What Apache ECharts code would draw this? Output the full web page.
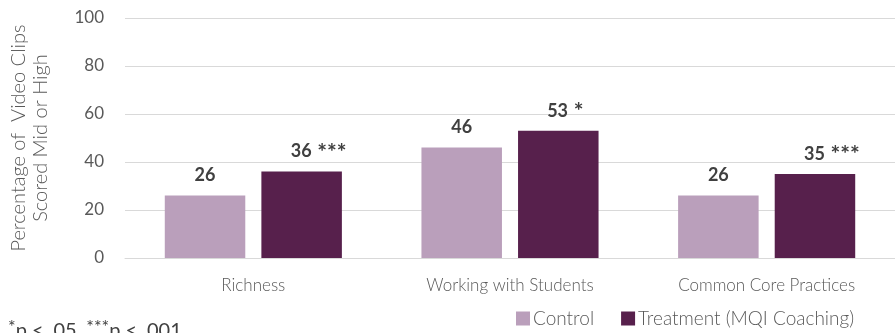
<!DOCTYPE html>
<html><head><meta charset="utf-8">
<script src="https://cdn.jsdelivr.net/npm/echarts@6/dist/echarts.min.js"></script>
<style>html,body{margin:0;padding:0;background:#fff}#c{width:895px;height:333px}</style>
</head><body><div id="c"></div>
<script>
const categories = ['Richness', 'Working with Students', 'Common Core Practices'];
const controlValues = [26, 46, 26];
const treatmentValues = [36, 53, 35];
const treatmentSig = ['***', '*', '***'];
const yTicks = [0, 20, 40, 60, 80, 100];
const seriesNames = ['Control', 'Treatment (MQI Coaching)'];

const chart = echarts.init(document.getElementById('c'));
const labelBase = {
  show: true, position: 'top', distance: 11,
  color: '#404040', fontFamily: 'Lato', fontWeight: 'bold', fontSize: 18
};
chart.setOption({
  animation: false,
  grid: { left: 124, right: -10, top: 18, bottom: 75 },
  legend: {
    data: seriesNames, left: 516, top: 309, padding: 0, itemWidth: 14, itemHeight: 14, itemGap: 27,
    icon: 'rect',
    textStyle: { color: '#595959', fontFamily: 'Lato', fontWeight: 300, fontSize: 19, padding: [0, 0, 0, -2] }
  },
  xAxis: {
    type: 'category', data: categories,
    axisLine: { lineStyle: { color: '#D9D9D9' } },
    axisTick: { show: false },
    axisLabel: { color: '#595959', fontFamily: 'Lato', fontWeight: 300, fontSize: 17, margin: 19 }
  },
  yAxis: {
    type: 'value', min: yTicks[0], max: yTicks[yTicks.length - 1], interval: 20,
    name: 'Percentage of  Video Clips\nScored Mid or High', nameLocation: 'middle', nameGap: 73,
    nameTextStyle: { color: '#595959', fontFamily: 'Lato', fontWeight: 300, fontSize: 20, lineHeight: 22 },
    axisLabel: { color: '#595959', fontFamily: 'Lato', fontSize: 17, margin: 21 },
    splitLine: { lineStyle: { color: '#D9D9D9' } },
    axisLine: { show: false }, axisTick: { show: false }
  },
  series: [
    {
      name: seriesNames[0], type: 'bar', data: controlValues,
      barGap: '20%', barCategoryGap: '31%',
      itemStyle: { color: '#BA9FBB' },
      label: Object.assign({}, labelBase)
    },
    {
      name: seriesNames[1], type: 'bar',
      data: treatmentValues.map((v, i) => ({
        value: v,
        label: { offset: [treatmentSig[i].length > 1 ? 17 : 7, 0] }
      })),
      itemStyle: { color: '#57204C' },
      label: Object.assign({}, labelBase, {
        distance: 11,
        formatter: p => '{n|' + p.value + '}{s| ' + treatmentSig[p.dataIndex] + '}',
        rich: {
          n: { color: '#404040', fontFamily: 'Lato', fontWeight: 'bold', fontSize: 18, lineHeight: 20, verticalAlign: 'bottom' },
          s: { color: '#404040', fontFamily: 'Lato', fontWeight: 'bold', fontSize: 23, lineHeight: 18, verticalAlign: 'top', padding: [0, 0, 6, 0] }
        }
      })
    }
  ],
  graphic: [{
    type: 'text', left: 8, top: 318,
    style: {
      text: '{s|*}{t|p < .05, }{s|***}{t|p < .001}',
      rich: {
        t: { fill: '#404040', fontFamily: 'Lato', fontSize: 20, padding: [5, 0, 0, 0] },
        s: { fill: '#404040', fontFamily: 'Lato', fontSize: 18, padding: [0, 0, 3, 0] }
      }
    }
  }]
});
</script></body></html>
